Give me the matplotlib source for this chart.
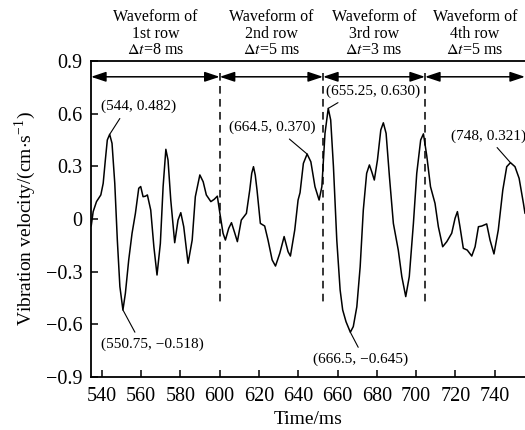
import numpy as np
import matplotlib
matplotlib.use("Agg")
import matplotlib.pyplot as plt

plt.rcParams['font.family'] = ['Liberation Serif', 'DejaVu Serif']
plt.rcParams['mathtext.fontset'] = 'stix'

# blast vibration record (time in ms, velocity in cm/s)
time_ms = [534.6, 535.6, 537.3, 539.5, 540.7, 541.8, 542.8, 544.0, 545.2, 546.6,
           547.9, 549.2, 550.75, 552.0, 553.7, 555.4, 557.1, 558.8, 559.8, 561.0,
           562.2, 563.2, 564.9, 566.5, 568.1, 569.8, 571.2, 572.6, 573.7, 575.1,
           577.1, 578.8, 580.2, 581.7, 583.9, 586.0, 587.6, 589.9, 591.6, 593.2,
           595.5, 597.2, 598.8, 600.0, 601.7, 602.9, 604.6, 606.0, 607.7, 609.0,
           611.0, 613.6, 615.3, 616.3, 617.2, 618.1, 619.0, 620.7, 622.9, 624.6,
           626.7, 628.4, 630.6, 632.8, 634.8, 636.0, 638.2, 639.9, 640.9, 642.6,
           644.5, 646.4, 648.5, 650.6, 652.0, 653.6, 655.25, 656.5, 657.9, 659.6,
           661.3, 662.6, 664.3, 666.5, 668.0, 669.8, 671.5, 673.1, 674.8, 676.2,
           677.4, 678.7, 680.3, 682.0, 683.3, 684.7, 686.4, 688.4, 690.9, 692.7,
           694.7, 696.5, 698.6, 700.3, 702.3, 703.7, 705.4, 707.3, 709.6, 711.3,
           713.5, 715.6, 718.1, 719.8, 721.0, 722.3, 724.0, 726.0, 728.3, 730.0,
           731.7, 733.4, 735.9, 737.6, 739.6, 741.8, 744.1, 746.1, 748.0, 750.3,
           752.4, 754.6, 755.4]
velocity = [-0.040, 0.042, 0.099, 0.137, 0.203, 0.336, 0.450, 0.482, 0.431, 0.203,
            -0.120, -0.385, -0.518, -0.423, -0.233, -0.081, 0.032, 0.175, 0.185, 0.127,
            0.130, 0.137, 0.051, -0.158, -0.319, -0.139, 0.184, 0.397, 0.336, 0.108,
            -0.135, -0.006, 0.036, -0.044, -0.252, -0.120, 0.127, 0.251, 0.212, 0.137,
            0.099, 0.112, 0.130, 0.040, -0.081, -0.120, -0.053, -0.021, -0.081, -0.129,
            -0.006, 0.032, 0.165, 0.260, 0.298, 0.250, 0.165, -0.025, -0.040, -0.120,
            -0.233, -0.268, -0.195, -0.100, -0.186, -0.211, -0.063, 0.108, 0.150, 0.317,
            0.370, 0.326, 0.184, 0.108, 0.184, 0.488, 0.630, 0.564, 0.298, -0.120,
            -0.404, -0.518, -0.585, -0.645, -0.613, -0.500, -0.272, 0.051, 0.260, 0.308,
            0.269, 0.222, 0.336, 0.507, 0.548, 0.488, 0.241, -0.025, -0.177, -0.328,
            -0.442, -0.328, -0.025, 0.260, 0.450, 0.485, 0.360, 0.184, 0.089, -0.044,
            -0.158, -0.129, -0.081, 0.004, 0.042, -0.044, -0.167, -0.177, -0.211, -0.158,
            -0.044, -0.040, -0.028, -0.120, -0.199, -0.063, 0.165, 0.298, 0.321, 0.298,
            0.232, 0.089, 0.032]

# row boundaries and labels
x_min, x_max = 534.5, 755.4
row_bounds = [600.0, 652.6, 704.5]
row_titles = ["Waveform of\n1st row\n$\\Delta t$=8 ms",
              "Waveform of\n2nd row\n$\\Delta t$=5 ms",
              "Waveform of\n3rd row\n$\\Delta t$=3 ms",
              "Waveform of\n4th row\n$\\Delta t$=5 ms"]

# annotated extremes: (t, v), label, text position, leader anchor on text
extremes_t = [544.0, 550.75, 644.5, 655.25, 666.5, 748.0]
extremes_v = [0.482, -0.518, 0.370, 0.630, -0.645, 0.321]
extremes_txt = ["(544, 0.482)", "(550.75, \u22120.518)", "(664.5, 0.370)",
                "(655.25, 0.630)", "(666.5, \u22120.645)", "(748, 0.321)"]
txt_pos = [(558.5, 0.640), (565.6, -0.713), (627.0, 0.520),
           (678.2, 0.725), (671.9, -0.799), (717.6, 0.473)]
txt_ha = ['center', 'center', 'center', 'center', 'center', 'left']
txt_rel = [(0.30, 0.0), (0.36, 1.0), (0.63, 0.0), (0.20, 0.0), (0.50, 1.0), (0.56, 0.0)]

fig = plt.figure(figsize=(5.25, 4.30), dpi=100)
ax = fig.add_axes([91 / 525, 1 - 377 / 430, 1 - 91 / 525, (377 - 61) / 430])

ax.plot(time_ms, velocity, color='black', lw=1.1, zorder=3,
        solid_joinstyle='round', solid_capstyle='round')

# dashed separators between rows
for xb in row_bounds:
    ax.plot([xb, xb], [0.83, -0.47], color='black', lw=1.1,
            dashes=(5, 3.5), zorder=2)

# double arrows spanning each row
edges = [x_min] + row_bounds + [x_max]
for a, b in zip(edges[:-1], edges[1:]):
    ax.annotate('', xy=(b, 0.81), xytext=(a, 0.81),
                arrowprops=dict(arrowstyle='<|-|>,head_length=0.9,head_width=0.3',
                                color='black', lw=1.1, shrinkA=0, shrinkB=0),
                annotation_clip=False)

for i, title in enumerate(row_titles):
    xc = (edges[i] + edges[i + 1]) / 2
    ax.text(xc, 1.008, title, transform=ax.get_xaxis_transform(),
            ha='center', va='bottom', fontsize=11.5, linespacing=1.05)

for t, v, s, pos, ha, rel in zip(extremes_t, extremes_v, extremes_txt,
                                 txt_pos, txt_ha, txt_rel):
    ax.annotate(s, xy=(t, v), xytext=pos, ha=ha, va='center', fontsize=11,
                arrowprops=dict(arrowstyle='-', color='black', lw=0.8,
                                relpos=rel, shrinkA=2, shrinkB=0),
                annotation_clip=False)

ax.set_xlim(x_min, x_max)
ax.set_ylim(-0.9, 0.9)
ax.set_xticks(np.arange(540, 741, 20))
yt = [-0.9, -0.6, -0.3, 0, 0.3, 0.6, 0.9]
ax.set_yticks(yt)
ax.set_yticklabels(['0' if y == 0 else f'{y:.1f}'.replace('-', '\u2212') for y in yt])
ax.tick_params(direction='in', length=5, width=1.1, labelsize=14.5, pad=6)
ax.tick_params(axis='x', pad=7)

ax.spines['right'].set_visible(False)
for sp in ['left', 'top', 'bottom']:
    ax.spines[sp].set_linewidth(1.3)

ax.set_xlabel('Time/ms', fontsize=14, labelpad=4)
ax.set_ylabel('Vibration velocity/(cm$\\cdot$s$^{\\mathregular{-1}}$)', fontsize=14,
              labelpad=6)

fig.savefig('out.png', dpi=100)
